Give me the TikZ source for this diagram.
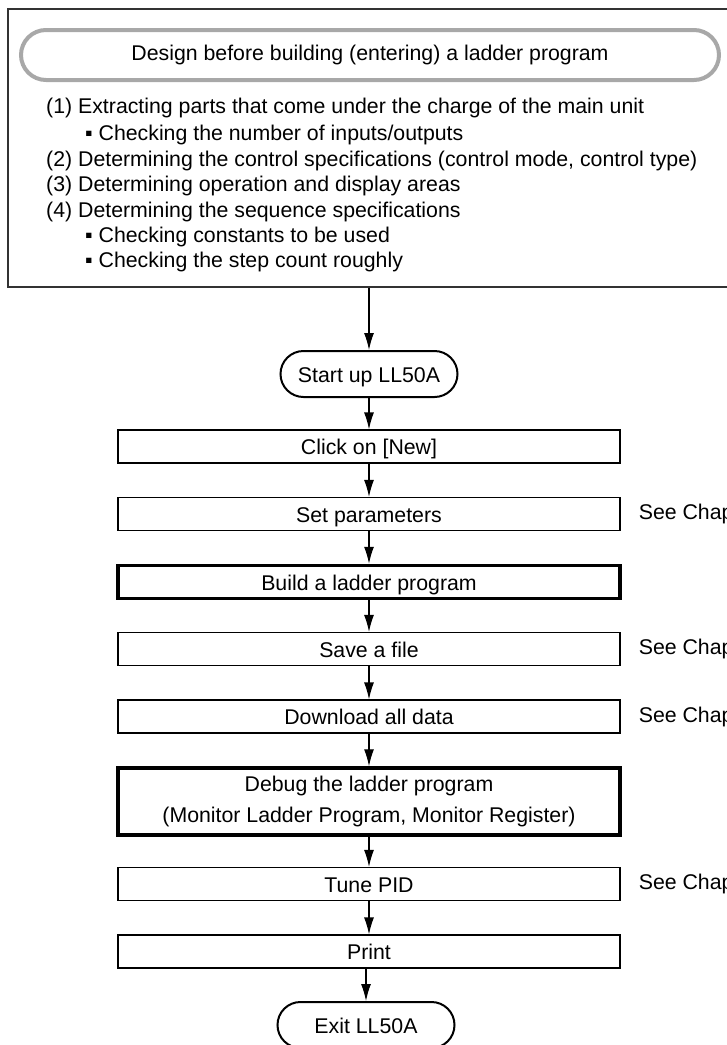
\documentclass[tikz,border=0pt]{standalone}
\usepackage{fontspec}
\setmainfont{Liberation Sans}
\usetikzlibrary{arrows.meta,positioning}
\definecolor{headgray}{RGB}{168,168,168}
\definecolor{framegray}{RGB}{50,50,50}
\tikzset{
  plainbox/.style={draw, line width=1.2pt, minimum width=502pt, minimum height=33pt, inner sep=0pt},
  oneline/.style={text height=20pt, text depth=4pt},
  stepbox/.style={plainbox, oneline},
  keybox/.style={plainbox, line width=3.5pt},
  term/.style={draw, line width=2pt, rounded corners=23pt, minimum width=177pt, minimum height=46pt, inner sep=0pt, oneline},
  note/.style={inner sep=0pt},
  listline/.style={anchor=base west, inner sep=0pt},
  flow/.style={-{Latex[length=17pt,width=10pt]}, line width=1.2pt},
}
\begin{document}
\begin{tikzpicture}[x=1pt, y=-1pt, font=\fontsize{21.3pt}{25.6pt}\selectfont]
  \useasboundingbox (0,0) rectangle (727,1045);
  \clip (0,0) rectangle (727,1045);
  % design notes
  \node (design) at (378,148)[draw=framegray, line width=1.2pt, minimum width=740pt, minimum height=278pt]{};
  \node (head) at (370,55)[draw=headgray, line width=4pt, rounded corners=25pt, minimum width=698pt, minimum height=50pt, inner sep=0pt]{Design before building (entering) a ladder program};
  \node (l1) at (46,113.5)[listline]{(1) Extracting parts that come under the charge of the main unit};
  \node (l1a) at (85,140.5)[listline]{▪ Checking the number of inputs/outputs};
  \node (l2) at (46,166.5)[listline]{(2) Determining the control specifications (control mode, control type)};
  \node (l3) at (46,191.5)[listline]{(3) Determining operation and display areas};
  \node (l4) at (46,217.5)[listline]{(4) Determining the sequence specifications};
  \node (l4a) at (85,242.5)[listline]{▪ Checking constants to be used};
  \node (l4b) at (85,267.5)[listline]{▪ Checking the step count roughly};
  % flow
  \node (start) at (369,374)[term]{Start up LL50A};
  \node (new) at (369,446.5)[stepbox]{Click on [New]};
  \node (param) at (369,514)[stepbox]{Set parameters};
  \node (build) at (369,582)[keybox, oneline]{Build a ladder program};
  \node (save) at (369,649)[stepbox]{Save a file};
  \node (load) at (369,716.5)[stepbox]{Download all data};
  \node (debug) at (369,801.5)[keybox, minimum height=67pt, align=center, font=\fontsize{21.3pt}{31pt}\selectfont]{Debug the ladder program\\(Monitor Ladder Program, Monitor Register)};
  \node (tune) at (369,884)[stepbox]{Tune PID};
  \node (print) at (369,951.5)[stepbox]{Print};
  \node (exit) at (366,1025)[term]{Exit LL50A};
  % references
  \node (seeparam) [note, right=18pt of param]{See Chap};
  \node (seesave) [note, right=18pt of save]{See Chap};
  \node (seeload) [note, right=18pt of load]{See Chap};
  \node (seetune) [note, right=18pt of tune]{See Chap};
  % arrows
  \draw[flow] (design.south -| start.north) -- (start.north);
  \foreach \a/\b in {start/new, new/param, param/build, build/save, save/load, load/debug, debug/tune, tune/print}
    \draw[flow] (\a) -- (\b);
  \draw[flow] (print.south -| exit.north) -- (exit.north);
\end{tikzpicture}
\end{document}
